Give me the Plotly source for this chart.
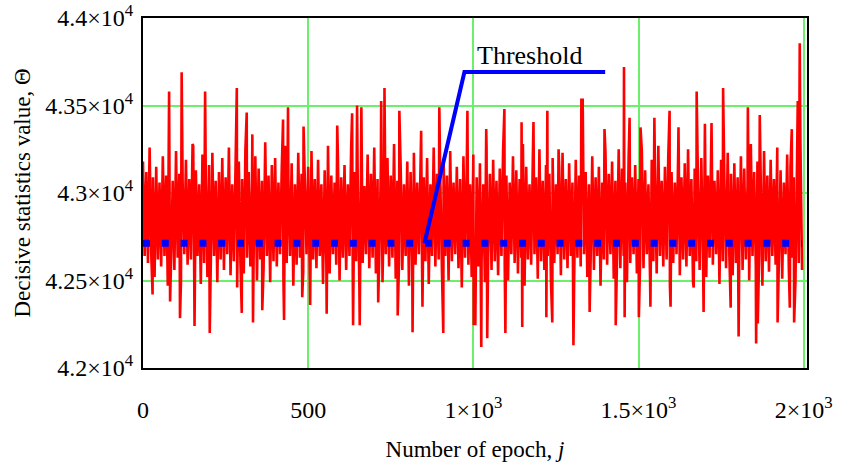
import plotly.graph_objects as go

# decisive statistics, sampled every 5 epochs (dense core of the trace)
core_epochs = list(range(0, 2000, 5))
core_values = [
    43180, 42640, 43120, 42600, 43260, 42650, 43090, 42520, 43150, 42620, 43060, 42580, 43210, 42640, 43100, 42470, 43170, 42610, 43070, 42560,
    43240, 42630, 43110, 42500, 43060, 42650, 43190, 42590, 43080, 42620, 43280, 42540, 43130, 42640, 43050, 42480, 43220, 42600, 43100, 42520,
    43160, 42570, 43230, 42640, 43070, 42490, 43120, 42620, 43200, 42560, 43090, 42650, 43260, 42530, 43050, 42610, 43140, 42460, 43180, 42600,
    43080, 42540, 43250, 42630, 43120, 42580, 43060, 42650, 43210, 42500, 43140, 42620, 43070, 42570, 43290, 42640, 43100, 42490, 43160, 42610,
    43200, 42580, 43060, 42650, 43140, 42520, 43270, 42600, 43090, 42640, 43170, 42470, 43050, 42590, 43230, 42630, 43110, 42550, 43060, 42650,
    43150, 42510, 43240, 42620, 43080, 42570, 43190, 42640, 43050, 42480, 43130, 42600, 43270, 42540, 43100, 42650, 43060, 42590, 43210, 42500,
    43090, 42630, 43160, 42560, 43050, 42640, 43250, 42520, 43120, 42610, 43070, 42460, 43180, 42600, 43040, 42650, 43220, 42570, 43110, 42630,
    43260, 42540, 43080, 42620, 43140, 42490, 43060, 42650, 43200, 42580, 43100, 42630, 43280, 42510, 43070, 42600, 43150, 42560, 43050, 42640,
    43180, 42470, 43120, 42620, 43230, 42590, 43060, 42650, 43140, 42530, 43090, 42610, 43200, 42480, 43050, 42640, 43260, 42580, 43110, 42620,
    43070, 42550, 43190, 42640, 43100, 42500, 43240, 42610, 43060, 42650, 43150, 42570, 43080, 42460, 43210, 42630, 43130, 42590, 43050, 42520,
    43220, 42640, 43090, 42580, 43170, 42620, 43050, 42490, 43260, 42650, 43110, 42560, 43190, 42610, 43070, 42530, 43140, 42640, 43240, 42580,
    43100, 42500, 43060, 42650, 43210, 42600, 43130, 42540, 43080, 42630, 43280, 42470, 43150, 42620, 43050, 42590, 43190, 42650, 43090, 42510,
    43250, 42610, 43070, 42560, 43160, 42640, 43110, 42490, 43200, 42600, 43050, 42650, 43140, 42530, 43230, 42620, 43080, 42570, 43170, 42640,
    43060, 42480, 43190, 42630, 43100, 42580, 43270, 42650, 43120, 42520, 43050, 42610, 43210, 42560, 43090, 42640, 43150, 42470, 43060, 42620,
    43230, 42590, 43110, 42650, 43180, 42510, 43070, 42630, 43250, 42570, 43140, 42640, 43060, 42490, 43200, 42600, 43090, 42650, 43160, 42540,
    43080, 42620, 43240, 42570, 43130, 42650, 43050, 42500, 43190, 42610, 43100, 42540, 43270, 42640, 43070, 42580, 43150, 42620, 43210, 42470,
    43120, 42600, 43060, 42650, 43220, 42530, 43090, 42620, 43170, 42580, 43250, 42640, 43080, 42490, 43140, 42610, 43050, 42560, 43200, 42650,
    43160, 42520, 43100, 42630, 43260, 42590, 43070, 42650, 43130, 42480, 43190, 42610, 43060, 42570, 43230, 42640, 43110, 42530, 43170, 42600,
    43090, 42650, 43210, 42560, 43140, 42620, 43050, 42500, 43280, 42640, 43120, 42580, 43180, 42630, 43070, 42470, 43240, 42610, 43100, 42550,
    43190, 42640, 43080, 42590, 43260, 42620, 43130, 42510, 43060, 42650, 43220, 42570, 43150, 42630, 43090, 42490, 43200, 42600, 43300, 42560,
]

# isolated spikes (placed between the core samples)
spike_epochs = [
    29, 79, 82, 112, 117, 152, 156, 188, 202, 284, 299, 314, 331, 333, 361,
    424, 427, 439, 482, 486, 506, 556, 588, 633, 636, 648, 656, 661, 712, 721,
    731, 771, 776, 816, 842, 846, 897, 909, 982, 1001, 1006, 1024, 1039, 1042,
    1094, 1097, 1146, 1148, 1182, 1221, 1224, 1239, 1258, 1303, 1327, 1331,
    1352, 1397, 1431, 1456, 1458, 1473, 1501, 1506, 1536, 1548, 1594, 1597,
    1621, 1667, 1676, 1697, 1701, 1721, 1756, 1779, 1803, 1831, 1856, 1861,
    1867, 1921, 1958, 1964, 1971, 1982, 1988,
]
spike_values = [
    42420, 43580, 42380, 42285, 43690, 43270, 42240, 43580, 42200, 43600, 42315, 43460, 43335, 42260, 42330,
    43420, 42275, 43490, 42405, 43380, 42360, 42310, 43385, 43455, 42245, 43500, 42245, 43490, 42375, 43525,
    43600, 42300, 43470, 42205, 43355, 42350, 43490, 42200, 43470, 42245, 42245, 42120, 43365, 42170,
    43480, 42200, 43405, 42235, 43405, 42290, 43470, 42260, 43250, 42130, 43540, 43540,
    42320, 43365, 42245, 43720, 42290, 43430, 42290, 43375, 42350, 43430, 43470, 42350,
    43375, 42460, 43580, 42320, 43395, 43400, 43600, 42345, 42180, 43490, 42140, 42255,
    43445, 42260, 42345, 43365, 42260, 43525, 43855,
]

threshold = 42713

x_ticks = [0, 500, 1000, 1500, 2000]
x_labels = ["0", "500", "1×10<sup>3</sup>", "1.5×10<sup>3</sup>", "2×10<sup>3</sup>"]
y_ticks = [42000, 42500, 43000, 43500, 44000]
y_labels = ["4.2×10<sup>4</sup>", "4.25×10<sup>4</sup>", "4.3×10<sup>4</sup>",
            "4.35×10<sup>4</sup>", "4.4×10<sup>4</sup>"]

# merge core and spikes into one trace ordered by epoch
series = dict(zip(core_epochs, core_values))
series.update(dict(zip(spike_epochs, spike_values)))
epochs = sorted(series)
values = [series[e] for e in epochs]

FONT = "Liberation Serif"
GRID = "#6cf06c"

fig = go.Figure()
fig.add_trace(go.Scatter(x=epochs, y=values, mode="lines",
                         line=dict(color="#ff0000", width=2.6, simplify=False), hoverinfo="skip"))
fig.add_trace(go.Scatter(x=[epochs[0], epochs[-1]], y=[threshold, threshold], mode="lines",
                         line=dict(color="#0000ff", width=7, dash="7px,11.8px")))

# callout from the threshold line to its label
fig.add_shape(type="path", xref="x", yref="y",
              path=f"M 852 {threshold} L 973 43691 L 1399 43691",
              line=dict(color="#0000ff", width=4))
fig.add_annotation(x=1170, y=43691, text="Threshold", showarrow=False,
                   yanchor="bottom", yshift=0, font=dict(family=FONT, size=26, color="black"))

axis_common = dict(showline=True, mirror=True, linecolor="black", linewidth=2,
                   showgrid=True, gridcolor=GRID, gridwidth=1.5, zeroline=False,
                   automargin=False, ticks="",
                   tickfont=dict(family=FONT, size=24, color="black"))

fig.update_xaxes(range=[0, 2010], tickvals=x_ticks, ticktext=x_labels,
                 ticklabelstandoff=19,
                 title=dict(text="Number of epoch, <i>j</i>", standoff=19,
                            font=dict(family=FONT, size=23, color="black")),
                 **axis_common)
fig.update_yaxes(range=[42000, 44000], tickvals=y_ticks, ticktext=y_labels,
                 ticklabelstandoff=3,
                 title=dict(text="Decisive statistics value, Θ", standoff=8,
                            font=dict(family=FONT, size=23, color="black")),
                 **axis_common)

fig.update_layout(width=844, height=470, showlegend=False,
                  margin=dict(l=143, r=37, t=18, b=102),
                  plot_bgcolor="white", paper_bgcolor="white")

# drop the default body margin so the figure sits at the page corner
fig.write_html("out.html", config={"displayModeBar": False},
               post_script="document.body.style.margin='0';")
